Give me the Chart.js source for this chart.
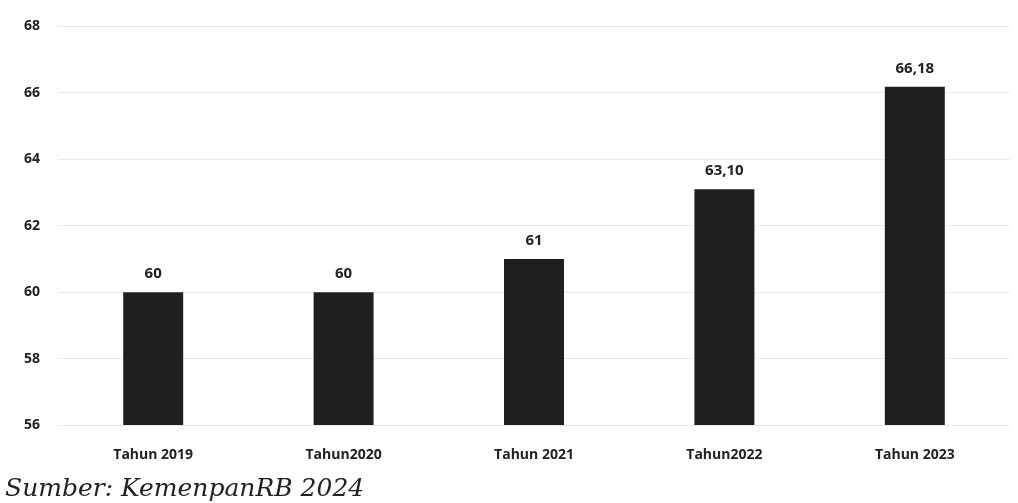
<!DOCTYPE html>
<html>
<head>
<meta charset="utf-8">
<script src="https://cdn.jsdelivr.net/npm/chart.js@4"></script>
<style>
  html, body { margin: 0; padding: 0; background: #fff; }
  #wrap { width: 1018px; height: 503px; }
</style>
</head>
<body>
<div id="wrap"><canvas id="chart" width="1018" height="503"></canvas></div>
<script>
// data
const categories = ['Tahun 2019', 'Tahun2020', 'Tahun 2021', 'Tahun2022', 'Tahun 2023'];
const values = [60, 60, 61, 63.10, 66.18];
const valueLabels = ['60', '60', '61', '63,10', '66,18'];
const yMin = 56;
const yMax = 68;
const yStep = 2;
const sourceText = 'Sumber: KemenpanRB 2024';

// label di atas batang + sumber di bawah
const barLabels = {
  id: 'barLabels',
  afterDatasetsDraw(chart) {
    const c = chart.ctx;
    const meta = chart.getDatasetMeta(0);
    c.save();
    c.font = 'bold 15px "Open Sans", sans-serif';
    c.fillStyle = '#222';
    c.textAlign = 'center';
    c.textBaseline = 'bottom';
    meta.data.forEach((bar, i) => {
      c.fillText(valueLabels[i], bar.x, bar.y - 11);
    });
    // sumber
    c.font = 'italic 25px "DejaVu Serif", serif';
    c.textAlign = 'left';
    c.textBaseline = 'alphabetic';
    c.fillText(sourceText, 5, 496);
    c.restore();
  }
};

const ctx = document.getElementById('chart').getContext('2d');
new Chart(ctx, {
  type: 'bar',
  data: {
    labels: categories,
    datasets: [{
      data: values,
      backgroundColor: '#1f1f1f',
      borderWidth: 0,
      barPercentage: 0.63,
      categoryPercentage: 0.5
    }]
  },
  options: {
    responsive: false,
    animation: false,
    layout: { padding: { top: 24, right: 8, left: 0, bottom: 34 } },
    plugins: {
      legend: { display: false },
      tooltip: { enabled: false }
    },
    scales: {
      x: {
        grid: { display: false },
        border: { display: false },
        ticks: {
          color: '#222',
          font: { family: '"Open Sans", sans-serif', size: 14, weight: 'bold' },
          padding: 14
        },
        afterFit(s) { s.height = 44; }
      },
      y: {
        min: yMin,
        max: yMax,
        grid: { color: 'rgba(0,0,0,0.08)', drawTicks: false },
        border: { display: false },
        ticks: {
          stepSize: yStep,
          color: '#222',
          font: { family: '"Open Sans", sans-serif', size: 14, weight: 'bold' },
          padding: 18
        },
        afterFit(s) { s.width = 58; }
      }
    }
  },
  plugins: [barLabels]
});
</script>
</body>
</html>
